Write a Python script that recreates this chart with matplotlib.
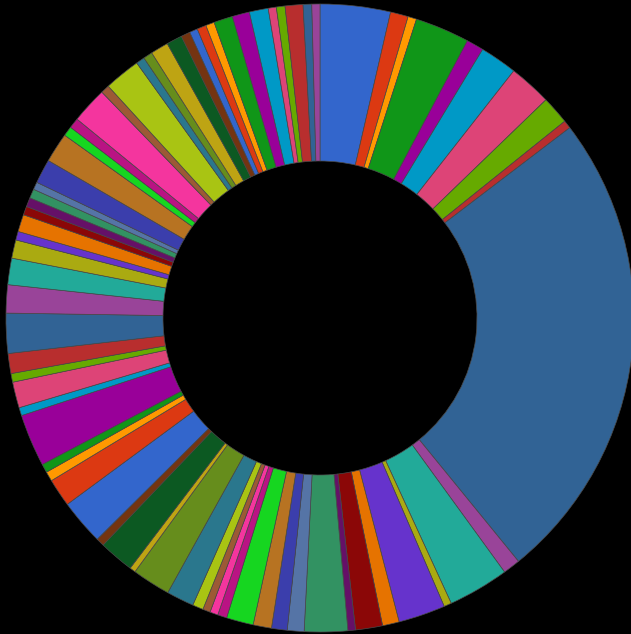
import matplotlib
matplotlib.use("Agg")
import matplotlib.pyplot as plt

# Google-style 31 colour palette, repeated around the ring
PALETTE = [
    "#3366cc", "#dc3912", "#ff9900", "#109618", "#990099", "#0099c6", "#dd4477",
    "#66aa00", "#b82e2e", "#316395", "#994499", "#22aa99", "#aaaa11", "#6633cc",
    "#e67300", "#8b0707", "#651067", "#329262", "#5574a6", "#3b3eac", "#b77322",
    "#16d620", "#b91383", "#f4359e", "#9c5935", "#a9c413", "#2a778d", "#668d1c",
    "#bea413", "#0c5922", "#743411",
]

# slice sizes (clockwise from 12 o'clock)
values_cycle1 = [13.0, 3.3, 1.6, 10.1, 3.2, 6.9, 7.9, 5.2, 1.5, 88.1, 3.2, 11.3, 1.4,
                 8.7, 3.1, 5.0, 1.4, 8.0, 3.1, 2.9, 3.4, 5.0, 1.7, 1.5, 1.4, 2.0,
                 5.1, 7.1, 1.1, 6.5, 1.5]
values_cycle2 = [8.4, 5.2, 1.8, 1.6, 9.7, 1.5, 4.8, 1.6, 3.7, 7.4, 5.2, 4.9, 3.4,
                 1.6, 3.2, 1.6, 1.7, 1.7, 1.4, 4.5, 5.5, 1.8, 1.9, 6.7, 1.6, 6.7,
                 1.6, 1.7, 3.3, 2.9, 1.7]
values_cycle3 = [1.5, 1.7, 1.6, 3.5, 3.2, 3.5, 1.5, 1.6, 3.3, 1.6, 1.5]

values = values_cycle1 + values_cycle2 + values_cycle3
colors = [PALETTE[i % len(PALETTE)] for i in range(len(values))]

W, H = 631, 634
CX, CY, R = 320, 318, 314  # centre and outer radius in pixels

fig = plt.figure(figsize=(W / 100, H / 100), dpi=100, facecolor="black")
ax = fig.add_axes([0, 0, 1, 1])
ax.set_facecolor("black")

ax.pie(
    values,
    colors=colors,
    startangle=90,
    counterclock=False,
    radius=1.0,
    wedgeprops=dict(width=0.5, edgecolor="#4a4a4a", linewidth=0.5),
)

ax.set_xlim(-CX / R, (W - CX) / R)
ax.set_ylim(-(H - CY) / R, CY / R)
ax.set_aspect("auto")
ax.axis("off")

fig.savefig("out.png", dpi=100, facecolor="black")
